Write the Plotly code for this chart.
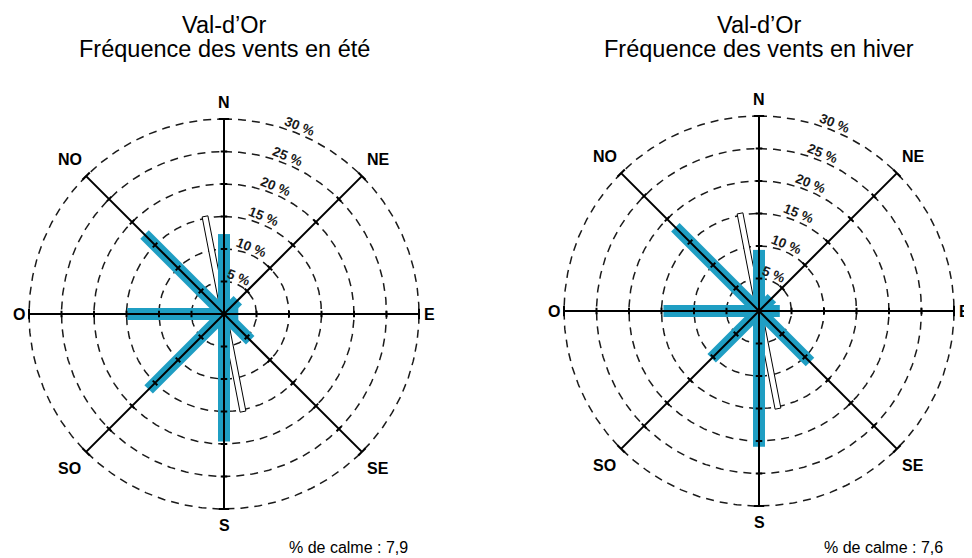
import numpy as np
import plotly.graph_objects as go

# ---------------- data ----------------
directions = ["N", "NE", "E", "SE", "S", "SO", "O", "NO"]
bearings = [0, 45, 90, 135, 180, 225, 270, 315]
freq_ete = [12.3, 3.0, 2.2, 5.7, 19.6, 16.4, 14.9, 17.3]
freq_hiver = [9.4, 2.8, 3.2, 11.1, 20.9, 10.3, 14.7, 18.2]
calme_ete = "7,9"
calme_hiver = "7,6"
ring_levels = [5, 10, 15, 20, 25, 30]
ring_labels = ["5 %", "10 %", "15 %", "20 %", "25 %", "30 %"]
runway_bearing = 349
runway_half_length = 15.3
title_line1 = "Val-d’Or"
titles = ["Fréquence des vents en été", "Fréquence des vents en hiver"]

# ---------------- layout constants ----------------
OFF = 8                      # page body margin
W, H = 972 - OFF, 558 - OFF  # figure size (visible part of window)
K = 6.5                      # pixels per percent
HP = 225                     # max half size of each subplot in pixels
centers = [(224 - OFF, 314 - OFF), (759 - OFF, 311 - OFF)]
BLUE = "#1f9ec3"
FONT = "Liberation Sans, Arial, sans-serif"


def xy(r, b):
    b = np.radians(b)
    return r * np.sin(b), r * np.cos(b)


fig = go.Figure()
annotations = []

for i, (freq, calme, title) in enumerate(zip([freq_ete, freq_hiver],
                                             [calme_ete, calme_hiver], titles)):
    xa = "x" if i == 0 else "x2"
    ya = "y" if i == 0 else "y2"
    cx, cy = centers[i]

    # dashed rings
    t = np.linspace(0, 360, 721)
    rx, ry = [], []
    for r in ring_levels:
        x, y = xy(r, t)
        rx += list(x) + [None]
        ry += list(y) + [None]
    fig.add_trace(go.Scatter(x=rx, y=ry, mode="lines", xaxis=xa, yaxis=ya,
                             line=dict(color="#1a1a1a", width=1.5, dash="8px,6px"),
                             hoverinfo="skip", showlegend=False))

    # runway outline bar
    b = np.radians(runway_bearing)
    u = np.array([np.sin(b), np.cos(b)])
    p = np.array([np.cos(b), -np.sin(b)])
    w = 0.45
    L = runway_half_length
    corners = [L * u + w * p, L * u - w * p, -L * u - w * p, -L * u + w * p, L * u + w * p]
    fig.add_trace(go.Scatter(x=[c[0] for c in corners], y=[c[1] for c in corners],
                             mode="lines", fill="toself", fillcolor="white",
                             line=dict(color="black", width=1), xaxis=xa, yaxis=ya,
                             hoverinfo="skip", showlegend=False))

    # blue frequency bars
    bx, by = [], []
    for v, bb in zip(freq, bearings):
        x, y = xy(v, bb)
        bx += [0, x, None]
        by += [0, y, None]
    fig.add_trace(go.Scatter(x=bx, y=by, mode="lines", xaxis=xa, yaxis=ya,
                             line=dict(color=BLUE, width=12),
                             hoverinfo="skip", showlegend=False))

    # axis lines, ticks and end caps
    axx, axy = [], []
    rmax = ring_levels[-1]
    for bb in bearings:
        x, y = xy(rmax, bb)
        axx += [0, x, None]
        axy += [0, y, None]
        for r in ring_levels:
            h = 0.8 if r == rmax else 0.5
            x1, y1 = xy(r, bb)
            px, py = xy(h, bb + 90)
            axx += [x1 - px, x1 + px, None]
            axy += [y1 - py, y1 + py, None]
    fig.add_trace(go.Scatter(x=axx, y=axy, mode="lines", xaxis=xa, yaxis=ya,
                             line=dict(color="black", width=2),
                             hoverinfo="skip", showlegend=False))

    # direction labels
    for d, bb in zip(directions, bearings):
        if bb % 180 == 0:
            rl = 32.6
        elif bb % 90 == 0:
            rl = 31.6
        else:
            rl = 33.6
        x, y = xy(rl, bb)
        annotations.append(dict(x=x, y=y, xref=xa, yref=ya, text="<b>%s</b>" % d,
                                showarrow=False, font=dict(size=16, family=FONT, color="black"),
                                xanchor="center", yanchor="middle"))

    # ring labels
    for r, lab in zip(ring_levels, ring_labels):
        x, y = xy(r + 1.1, 22)
        annotations.append(dict(x=x, y=y, xref=xa, yref=ya, text="<b>%s</b>" % lab, textangle=22,
                                showarrow=False, font=dict(size=13.5, family=FONT, color="#1a1a1a"),
                                xanchor="center", yanchor="middle"))

    # titles
    annotations.append(dict(x=cx / W, y=1 - (25 - OFF) / H, xref="paper", yref="paper",
                            text=title_line1, showarrow=False,
                            font=dict(size=23.5, family=FONT, color="black"),
                            xanchor="center", yanchor="middle"))
    annotations.append(dict(x=cx / W, y=1 - (49 - OFF) / H, xref="paper", yref="paper",
                            text=title, showarrow=False,
                            font=dict(size=23.5, family=FONT, color="black"),
                            xanchor="center", yanchor="middle"))
    # calm
    annotations.append(dict(x=(cx + 186) / W, y=1 - (547 - OFF) / H, xref="paper", yref="paper",
                            text="% de calme : " + calme, showarrow=False,
                            font=dict(size=16, family=FONT, color="black"),
                            xanchor="right", yanchor="middle"))

    left = max(0, cx - HP)
    right = min(W, cx + HP)
    bottom = max(0, (H - cy) - HP)
    top = min(H, (H - cy) + HP)
    ax = dict(range=[(left - cx) / K, (right - cx) / K], domain=[left / W, right / W],
              visible=False, fixedrange=True)
    ay = dict(range=[(bottom - (H - cy)) / K, (top - (H - cy)) / K], domain=[bottom / H, top / H],
              visible=False, fixedrange=True)
    if i == 0:
        fig.update_layout(xaxis=dict(ax, anchor="y"), yaxis=dict(ay, anchor="x"))
    else:
        fig.update_layout(xaxis2=dict(ax, anchor="y2"), yaxis2=dict(ay, anchor="x2"))

fig.update_layout(width=W, height=H, margin=dict(l=0, r=0, t=0, b=0),
                  paper_bgcolor="white", plot_bgcolor="white",
                  annotations=annotations, showlegend=False)

fig.write_html("out.html")
